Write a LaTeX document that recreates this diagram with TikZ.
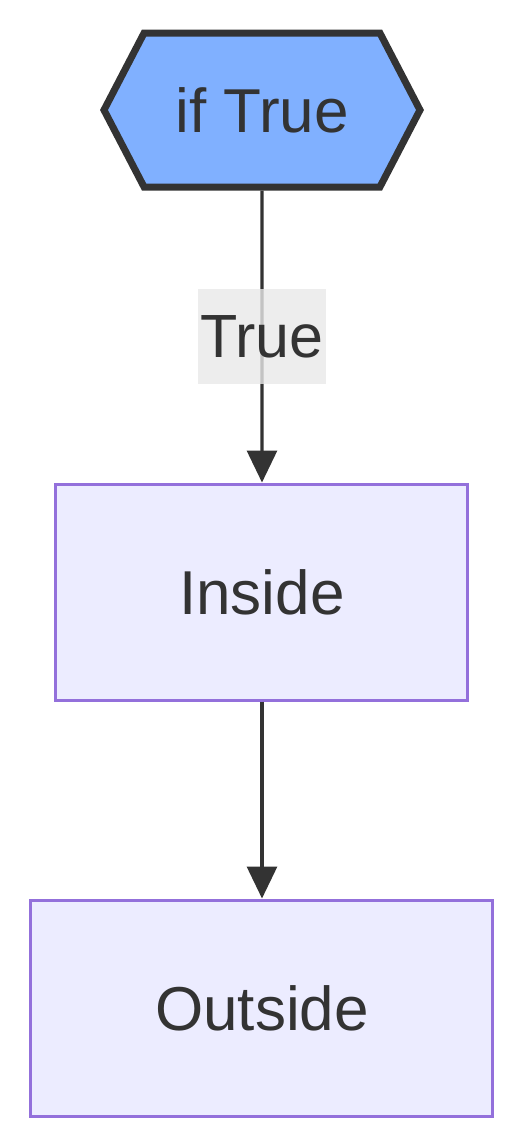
\documentclass[tikz,border=0pt]{standalone}
\usepackage{fontspec}
\setmainfont{Liberation Sans}
\usepackage{xcolor}
\usetikzlibrary{positioning, arrows.meta, shapes.symbols}
\definecolor{hexblue}{HTML}{80B0FF}
\definecolor{boxfill}{HTML}{ECECFF}
\definecolor{boxline}{HTML}{9370DB}
\definecolor{darkline}{HTML}{333333}
\definecolor{labelgray}{HTML}{E8E8E8}

\begin{document}
\begin{tikzpicture}[
    box/.style={fill=boxfill, draw=boxline, line width=1.5pt, text=darkline,
                font=\fontsize{31}{37}\selectfont},
    flow/.style={draw=darkline, line width=1.6pt,
                 -{Triangle[length=16pt, width=15pt]}}]
  \useasboundingbox (-131pt,55pt) rectangle (131pt,-519pt);
  \node[signal, signal to=east and west, signal pointer angle=125,
        fill=hexblue, draw=darkline, line width=3.5pt,
        minimum width=158pt, minimum height=77pt, text=darkline,
        font=\fontsize{31}{37}\selectfont] (cond) at (0,0) {if True};
  \node[box, minimum width=206pt, minimum height=108pt,
        below=146pt of cond] (inside) {Inside};
  \node[box, minimum width=231pt, minimum height=108pt,
        below=98.5pt of inside] (outside) {Outside};
  \draw[flow] (cond) -- node[fill=labelgray, fill opacity=0.8, text opacity=1,
        text=darkline, inner sep=0pt, minimum width=64pt, minimum height=47.5pt,
        font=\fontsize{30.5}{36}\selectfont] (truelabel) {True} (inside);
  \draw[flow] (inside) -- (outside);
\end{tikzpicture}
\end{document}
